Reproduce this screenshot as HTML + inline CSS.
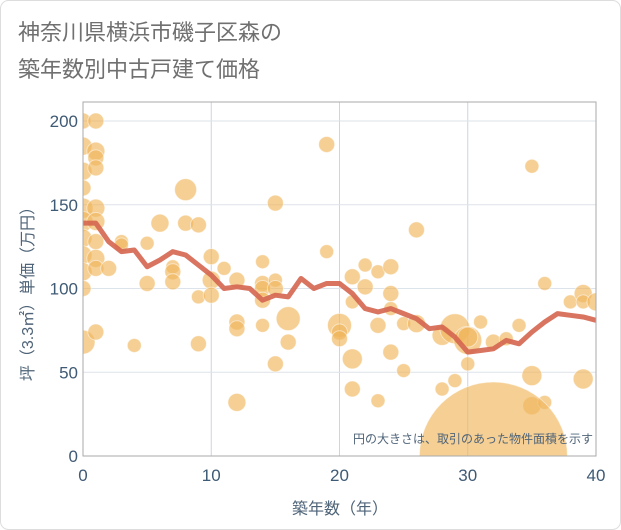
<!DOCTYPE html>
<html><head><meta charset="utf-8"><style>
body{margin:0;background:#fff;}
svg{display:block;font-family:"Liberation Sans","Noto Sans CJK JP",sans-serif;}
</style></head><body>
<svg id="c" width="621" height="530">
<rect x="0.5" y="0.5" width="620" height="529" rx="8" fill="#fff" stroke="#ddd"/>
<text x="18" y="40" font-size="22" fill="#707070">神奈川県横浜市磯子区森の</text>
<text x="18" y="77" font-size="22" fill="#707070">築年数別中古戸建て価格</text>
<g id="grid"></g><g id="bub"></g><g id="ln"></g><g id="ax"></g>
<text x="593" y="443" font-size="12" fill="#4f6478" text-anchor="end">円の大きさは、取引のあった物件面積を示す</text>
<text x="340" y="514" font-size="16" fill="#4f6478" text-anchor="middle">築年数（年）</text>
<text transform="translate(33,290) rotate(-90)" font-size="16" fill="#4f6478" text-anchor="middle">坪（3.3㎡）単価（万円）</text>
</svg>
<script>
const xTicks=[0,10,20,30,40];
const yTicks=[0,50,100,150,200];
const lineX=[0,1,2,3,4,5,6,7,8,9,10,11,12,13,14,15,16,17,18,19,20,21,22,23,24,25,26,27,28,29,30,31,32,33,34,35,36,37,38,39,40];
const lineY=[139,139,128,122,123,113,117,122,120,114,108,100,101,100,93,96,95,106,100,103,103,97,88,86,88,85,82,76,77,71,62,63,64,69,67,74,80,85,84,83,81];
const bubX=[0,1,0,1,1,0,1,0,0,1,0,1,0,1,0,1,0,1,0,0,1,2,3,3,4,5,5,6,7,7,7,8,8,9,9,9,10,10,10,11,12,12,12,12,14,14,14,14,14,15,15,15,16,16,15,19,19,20,20,20,21,21,21,22,22,21,23,24,24,24,23,25,24,25,23,26,26,28,29,30,28,29,30,30,31,32,33,35,35,36,36,34,35,38,39,39,40,39,32];
const bubY=[200,200,185,182,178,170,172,160,148,148,140,140,130,128,120,118,110,112,100,68,74,112,128,126,66,127,103,139,113,110,104,159,139,138,95,67,119,105,96,112,105,80,76,32,116,103,100,93,78,151,105,100,82,68,55,186,122,78,74,70,58,40,107,114,101,92,110,113,97,88,78,79,62,51,33,135,79,40,45,55,72,76,69,71,80,68,70,48,30,32,103,78,173,92,97,92,92,46,0];
const bubS=[8,8,9,9,8,9,8,8,10,9,10,9,9,8,9,9,9,8,8,12,8,8,7,7,7,7,8,9,7,8,8,11,8,8,7,8,8,9,8,7,8,8,8,9,7,8,8,8,7,8,7,8,12,8,8,8,7,12,8,8,10,8,8,7,8,7,7,8,8,7,8,7,8,7,7,8,9,7,7,7,10,15,14,10,7,8,7,10,9,7,7,7,7,7,9,7,9,10,74];
const X=v=>83+v*(596-83)/40, Y=v=>456-v*(456-121)/200;
const NS='http://www.w3.org/2000/svg';
function mk(t,a,p){const e=document.createElementNS(NS,t);for(const k in a)e.setAttribute(k,a[k]);p.appendChild(e);return e;}
const g=document.getElementById('grid'),ax=document.getElementById('ax');
xTicks.forEach(t=>{if(t>0&&t<40){const l=mk('line',{x1:X(t),x2:X(t),y1:102,y2:456,stroke:'#c9d6e3'},g);}
 const tx=mk('text',{x:X(t),y:481,'font-size':17,fill:'#3f5a74','text-anchor':'middle'},ax);tx.textContent=t;
 });
yTicks.forEach(t=>{if(t>0){const l=mk('line',{x1:83,x2:596,y1:Y(t),y2:Y(t),stroke:'#dde3ea'},g);}
 const tx=mk('text',{x:78,y:Y(t)+6,'font-size':17,fill:'#3f5a74','text-anchor':'end'},ax);tx.textContent=t;
 });
const fr=mk('rect',{x:83,y:102,width:513,height:354,fill:'none',stroke:'#aaa'},ax);

const b=document.getElementById('bub');
bubX.forEach((v,i)=>{const c=mk('circle',{cx:X(v),cy:Y(bubY[i]),r:bubS[i],fill:'#f0b65a','fill-opacity':0.65,stroke:'#fff','stroke-opacity':0.5},b);
 });
const cp=mk('clipPath',{id:'cl'},b);mk('rect',{x:83,y:102,width:513,height:354},cp);b.setAttribute('clip-path','url(#cl)');
const p=mk('polyline',{points:lineX.map((v,i)=>X(v)+','+Y(lineY[i])).join(' '),fill:'none',stroke:'#d4654f','stroke-width':5,'stroke-opacity':0.9,'stroke-linejoin':'round'},document.getElementById('ln'));

</script>
</body></html>
